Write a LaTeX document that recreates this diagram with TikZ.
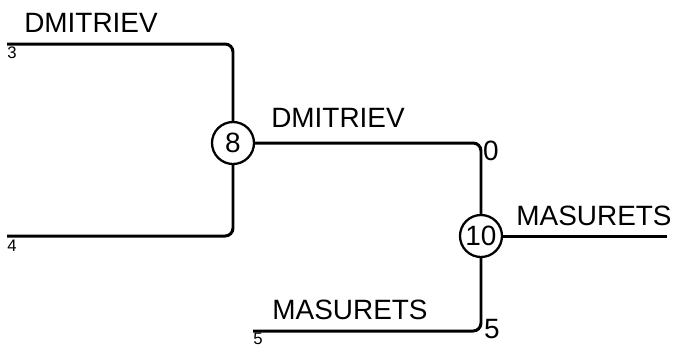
\documentclass[tikz,border=0pt]{standalone}
\usepackage{fontspec}
\setmainfont{Liberation Sans}
\usetikzlibrary{positioning}

\begin{document}
\begin{tikzpicture}[x=0.02cm, y=-0.02cm,
    wire/.style={line width=1.7pt, rounded corners=4.5pt},
    score/.style={circle, draw, line width=1.3pt, fill=white, minimum size=0.84cm, inner sep=0pt, font=\fontsize{15.9}{18}\selectfont},
    player/.style={inner sep=0pt, font=\fontsize{15.9}{18}\selectfont},
    seed/.style={inner sep=0pt, font=\fontsize{9.5}{11}\selectfont}
]
\useasboundingbox (0,0) rectangle (677,346);
\node[score] (s8) at (233,143) {8};
\node[score] (s10) at (481,236) {10};
\coordinate (p3) at (7,44);
\coordinate (p4) at (7,236);
\coordinate (p5) at (253,331);
\coordinate (win) at (667,236);
\draw[wire] (p3) -| (s8);
\draw[wire] (p4) -| (s8);
\draw[wire] (s8) -| (s10);
\draw[wire] (p5) -| (s10);
\draw[wire] (s10) -- (win);
% names and scores
\node[player] (top) at (91,23) {DMITRIEV};
\node[player] (mid) at (338,118) {DMITRIEV};
\node[player] (low) at (350,310) {MASURETS};
\node[player] (champ) at (594,216) {MASURETS};
\node[player] (g0) at (491,151) {0};
\node[player] (g5) at (492,329) {5};
\node[seed] (n3) at (12,53) {3};
\node[seed] (n4) at (12,246) {4};
\node[seed] (n5) at (258,339) {5};
\end{tikzpicture}
\end{document}
